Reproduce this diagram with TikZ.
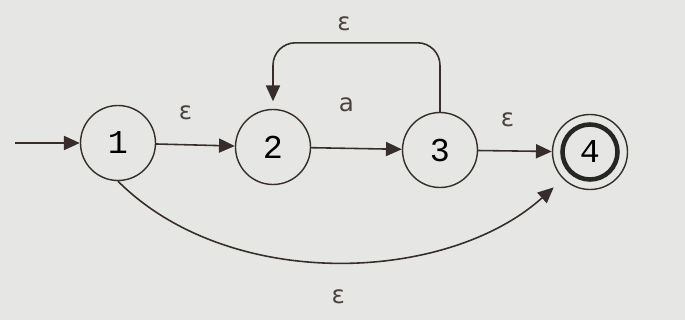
\documentclass[tikz,border=0pt]{standalone}
\usepackage{fontspec}
\setmainfont{DejaVu Sans}
\newfontfamily\statefont{Liberation Mono}
\usetikzlibrary{calc,arrows.meta,positioning}
\definecolor{paper}{RGB}{230,230,228}
\definecolor{ink}{RGB}{55,45,43}

\begin{document}
\begin{tikzpicture}[
    state/.style={circle, draw=ink, line width=0.8pt, minimum size=1.5cm,
                  inner sep=0pt, font=\statefont\fontsize{19}{21}\selectfont},
    arrow/.style={-{Triangle[length=9pt,width=8pt]}, draw=ink, line width=0.9pt},
    lbl/.style={font=\fontsize{14}{16}\selectfont, text=ink!90}
  ]
    \fill[paper] (0,0) rectangle (13.7,6.4);
    \useasboundingbox (0,0) rectangle (13.7,6.4);

    \node[state] (q1) at (2.36,3.54) {1};
    \node[state] (q2) at (5.46,3.46) {2};
    \node[state] (q3) at (8.80,3.40) {3};
    \node[state] (q4) at (11.80,3.36) {4};
    \draw[line width=2.6pt, black!85] (q4.center) circle (0.55);
    \coordinate (start) at (0.3,3.54);

    \draw[arrow] (start) -- (q1);
    \draw[arrow] (q1) -- node[lbl, above=0.38cm, xshift=-0.2cm] {ε} (q2);
    \draw[arrow] (q2) -- node[lbl, above=0.6cm, xshift=-0.2cm] {a} (q3);
    \draw[arrow] (q3) -- node[lbl, above=0.35cm, xshift=-0.15cm] {ε} (q4);
    \draw[arrow, rounded corners=0.45cm, shorten >=0.15cm]
      (q3.north) |- node[lbl, pos=0.75, above=0.1cm, xshift=-0.25cm] {ε} ($(q2.north)+(0,1.32)$) -- (q2.north);
    \draw[arrow, shorten >=0.25cm] (q1.south) to[out=-45, in=-138, looseness=0.9]
      node[lbl, below=0.45cm] {ε} (q4.south west);
\end{tikzpicture}
\end{document}
